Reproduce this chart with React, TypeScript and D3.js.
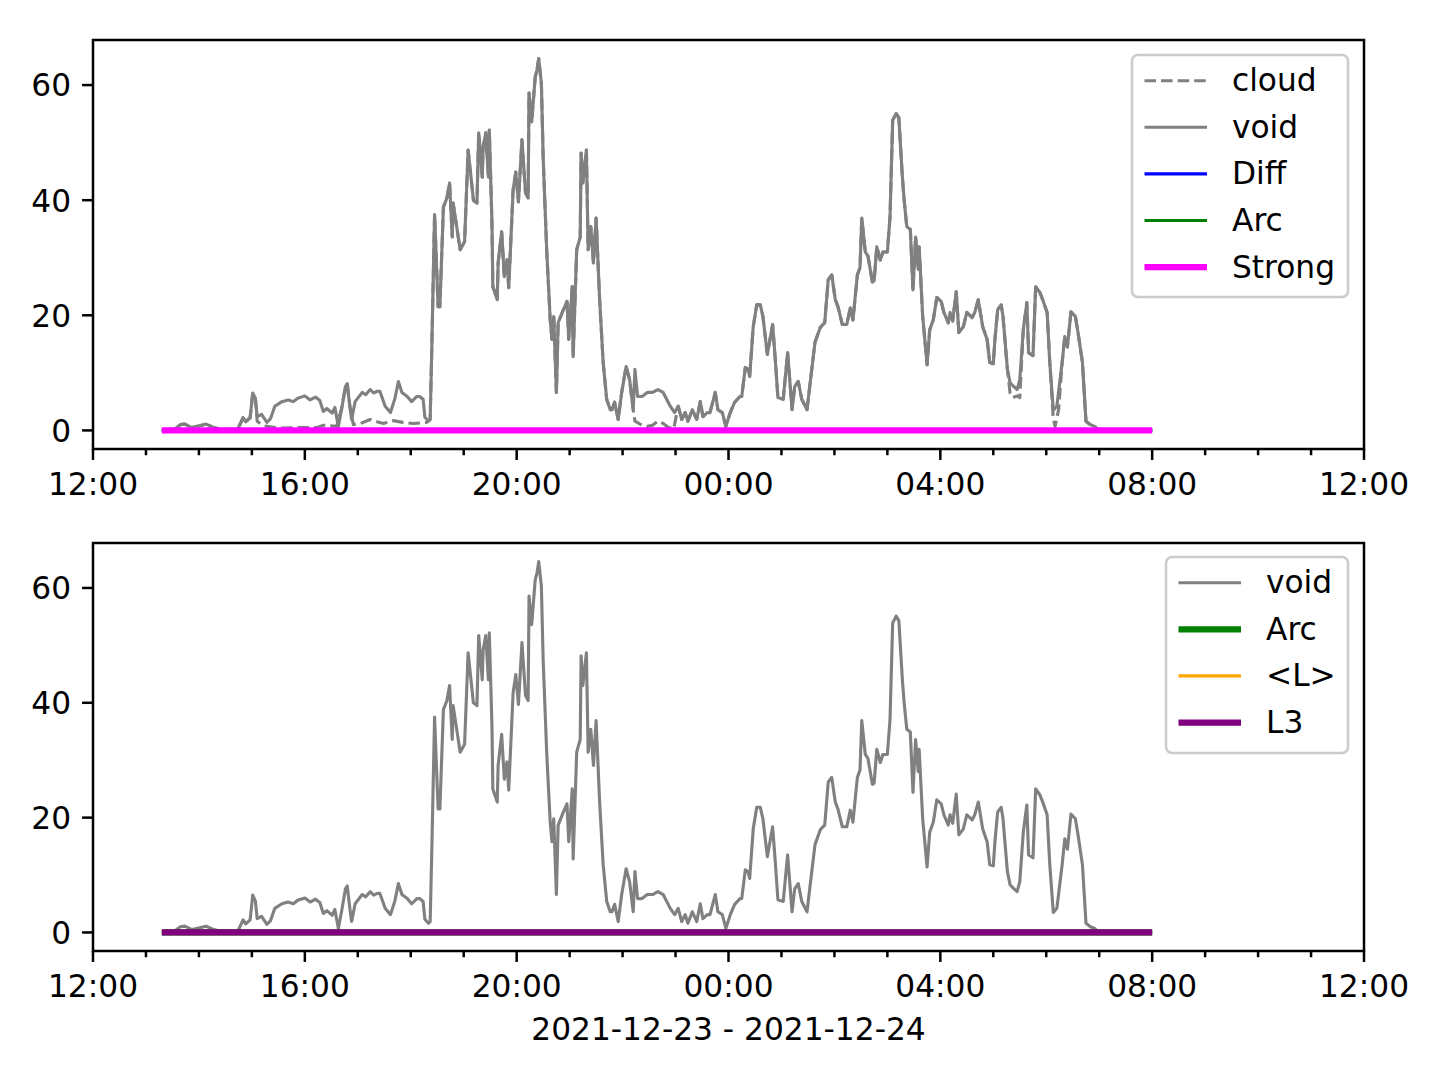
import React from "react";
import * as d3 from "d3";

const W = 1440;
const H = 1080;
const FONT = "'DejaVu Sans', sans-serif";
const FS = 31.25;
const PT = 225 / 72;

const START = new Date(2021, 11, 23, 12, 0);
const END = new Date(2021, 11, 24, 12, 0);
const at = (m: number) => new Date(START.getTime() + m * 60000);

// void trace: [minutes after 12:00 on 2021-12-23, value]
const VOID: [number, number][] = [
  [78, 0], [93, 0.3], [99, 1.0], [104, 1.1], [112, 0.5], [121, 0.8], [128, 1.1], [135, 0.6], [144, 0.2], [164, 0.2],
  [170, 2.2], [173, 1.5], [178, 2.2], [181, 6.5], [184, 5.5], [186, 2.4], [191, 2.8], [197, 1.4], [201, 2.0], [206, 4.2],
  [214, 5.0], [221, 5.3], [227, 5.0], [232, 5.6], [240, 6.0], [246, 5.3], [252, 5.8], [257, 5.2], [261, 3.3], [265, 3.8],
  [271, 3.0], [274, 4.0], [278, 0.7], [282, 4.0], [286, 7.6], [288, 8.1], [291, 4.2], [293, 1.9], [297, 5.0], [305, 6.6],
  [309, 6.2], [314, 7.1], [318, 6.5], [322, 6.8], [325, 6.8], [331, 4.2], [337, 3.1], [342, 5.5], [346, 8.5], [350, 6.6],
  [356, 5.9], [361, 5.0], [367, 5.9], [370, 5.9], [374, 5.4], [376, 2.3], [380, 1.6], [382, 1.9], [384, 15.3], [387, 37.5],
  [391, 21.5], [393, 21.5], [397, 38.8], [401, 40.4], [404, 43.0], [407, 33.6], [408, 39.5], [416, 31.4], [421, 32.8], [425, 48.7],
  [431, 40.0], [435, 39.5], [437, 51.7], [441, 44.0], [442, 49.2], [445, 51.7], [448, 44.0], [449, 52.2], [452, 36.0], [453, 25.0],
  [458, 22.7], [459, 29.1], [463, 34.5], [466, 26.7], [469, 29.7], [471, 24.8], [476, 41.8], [479, 44.9], [482, 39.7], [486, 50.5],
  [490, 41.3], [493, 40.4], [494, 58.6], [497, 53.6], [501, 61.4], [503, 62.6], [505, 64.6], [508, 60.3], [510, 47.5], [514, 31.4],
  [518, 19.2], [520, 15.8], [522, 19.8], [525, 6.6], [527, 18.7], [533, 21.0], [537, 22.4], [539, 15.8], [543, 25.0], [544, 12.8],
  [548, 31.4], [552, 33.6], [553, 48.2], [555, 43.0], [559, 48.7], [561, 31.4], [564, 35.4], [567, 29.1], [570, 36.9], [574, 22.7],
  [578, 11.8], [582, 5.4], [586, 3.6], [588, 3.6], [591, 4.9], [595, 1.9], [599, 6.6], [604, 11.1], [608, 8.8], [612, 3.6],
  [614, 10.6], [617, 5.9], [622, 5.9], [628, 6.6], [634, 6.6], [640, 7.1], [646, 6.6], [654, 4.2], [659, 3.1], [663, 4.2],
  [667, 1.9], [671, 3.1], [674, 1.6], [679, 3.6], [684, 1.9], [688, 5.0], [691, 2.4], [696, 3.1], [699, 3.1], [705, 6.6],
  [708, 3.6], [713, 3.1], [717, 0.7], [722, 3.1], [727, 4.9], [733, 5.9], [735, 5.9], [739, 10.9], [742, 10.6], [744, 9.4],
  [748, 18.0], [752, 21.8], [756, 21.8], [759, 19.8], [764, 13.2], [767, 15.8], [770, 18.4], [773, 12.3], [776, 5.7], [782, 5.4],
  [787, 13.5], [792, 3.6], [795, 7.6], [799, 8.5], [803, 5.4], [809, 3.6], [812, 7.6], [818, 15.3], [824, 17.9], [829, 18.7],
  [833, 26.2], [837, 27.0], [841, 22.7], [844, 21.5], [849, 18.4], [854, 18.4], [858, 21.3], [861, 19.2], [866, 27.0], [869, 28.3],
  [871, 36.9], [875, 31.0], [878, 30.3], [883, 25.8], [885, 26.0], [888, 31.9], [892, 29.6], [895, 31.0], [900, 31.0], [903, 37.1],
  [906, 53.9], [910, 55.1], [913, 54.3], [917, 44.0], [919, 40.0], [922, 35.4], [926, 34.9], [929, 24.4], [932, 33.6], [935, 28.0],
  [936, 31.9], [940, 19.8], [945, 11.4], [948, 17.5], [952, 19.2], [956, 23.1], [961, 22.4], [964, 20.5], [969, 18.7], [971, 20.5],
  [974, 19.0], [978, 24.1], [981, 17.0], [986, 18.0], [990, 20.5], [996, 19.6], [999, 20.5], [1003, 22.7], [1008, 18.0], [1013, 15.8],
  [1016, 11.8], [1020, 11.6], [1022, 16.1], [1025, 21.0], [1029, 21.8], [1031, 19.8], [1036, 10.6], [1039, 8.3], [1042, 7.8], [1047, 7.1],
  [1050, 8.8], [1054, 17.5], [1058, 22.2], [1060, 13.5], [1065, 13.0], [1068, 25.0], [1073, 23.9], [1076, 22.7], [1081, 20.5], [1084, 11.8],
  [1088, 3.5], [1092, 4.2], [1098, 11.8], [1101, 16.3], [1104, 14.5], [1108, 20.6], [1113, 19.8], [1116, 17.0], [1121, 11.8], [1125, 1.6],
  [1130, 1.0], [1135, 0.7], [1139, 0], [1200, 0],
];

// windows (minutes) where the dashed cloud trace leaves the void trace
const CLOUD_WINDOWS: [number, number][] = [[184, 382], [612, 663], [1036, 1054], [1084, 1098]];
// cloud readings inside those windows
const CLOUD_OWN: [number, number][] = [
  [186, 1.6], [191, 1.0], [197, 0.7], [212, 0.4], [235, 0.5], [254, 0.5], [261, 0.9], [276, 0.7],
  [282, 4.0], [286, 7.6], [288, 8.1], [291, 4.2], [295, 1.0], [303, 1.2], [314, 1.9], [322, 1.5],
  [329, 1.2], [340, 1.7], [351, 1.4], [363, 1.2], [378, 1.4],
  [614, 1.6], [622, 0.9], [628, 0.7], [634, 0.9], [640, 1.6], [646, 1.2], [652, 0.5], [658, 0.3],
  [1039, 6.5], [1042, 5.7], [1047, 6.0], [1050, 5.7],
  [1088, 2.0], [1090, 0.7], [1094, 3.6],
];

// Diff, Arc, Strong, <L>, L3 sit at zero over the whole record
const FLAT: [number, number][] = [[78, 0], [1200, 0]];

const CLOUD: [number, number][] = [
  ...VOID.filter(([t]) => !CLOUD_WINDOWS.some(([a, b]) => t > a && t < b)),
  ...CLOUD_OWN,
].sort((a, b) => a[0] - b[0]);

const Y_TICKS = [0, 20, 40, 60];
const X_LABEL = "2021-12-23 - 2021-12-24";

type Series = { name: string; data: [number, number][]; color: string; width: number; dash?: string };

const TOP_SERIES: Series[] = [
  { name: "cloud", data: CLOUD, color: "#808080", width: PT, dash: `${3.7 * PT} ${1.6 * PT}` },
  { name: "void", data: VOID, color: "#808080", width: PT },
  { name: "Diff", data: FLAT, color: "#0000ff", width: PT },
  { name: "Arc", data: FLAT, color: "#008000", width: PT },
  { name: "Strong", data: FLAT, color: "#ff00ff", width: 2 * PT },
];

const BOTTOM_SERIES: Series[] = [
  { name: "void", data: VOID, color: "#808080", width: PT },
  { name: "Arc", data: FLAT, color: "#008000", width: 2 * PT },
  { name: "<L>", data: FLAT, color: "#ffa500", width: PT },
  { name: "L3", data: FLAT, color: "#800080", width: 2 * PT },
];

const AX_L = 93;
const AX_R = 1364;

const peak = d3.max(VOID, (d) => d[1]) ?? 1;
const Y_DOMAIN = [-peak * 0.05, peak * 1.05];

function Legend({ series, x, y, w, h }: { series: Series[]; x: number; y: number; w: number; h: number }) {
  const handleX = x + 0.4 * FS;
  const handleLen = 2 * FS;
  const textX = handleX + handleLen + 0.8 * FS;
  const row0 = y + 25.7;
  const step = 46.6;
  return (
    <g>
      <rect x={x} y={y} width={w} height={h} rx={6} ry={6} fill="white" fillOpacity={0.8} stroke="#cccccc" strokeWidth={2.5} />
      {series.map((s, i) => {
        const cy = row0 + i * step;
        return (
          <g key={s.name}>
            <line x1={handleX} x2={handleX + handleLen} y1={cy} y2={cy} stroke={s.color} strokeWidth={s.width} strokeDasharray={s.dash} />
            <text x={textX} y={cy + 10.5} fontFamily={FONT} fontSize={FS} fill="#000">
              {s.name}
            </text>
          </g>
        );
      })}
    </g>
  );
}

function Panel({ top, bottom, series, legend }: { top: number; bottom: number; series: Series[]; legend: { x: number; y: number; w: number; h: number } }) {
  const x = d3.scaleTime().domain([START, END]).range([AX_L, AX_R]);
  const y = d3.scaleLinear().domain(Y_DOMAIN).range([bottom, top]);
  const line = d3
    .line<[number, number]>()
    .x((d) => x(at(d[0])))
    .y((d) => y(d[1]));
  const major = x.ticks(d3.timeHour.every(4)!);
  const minor = x.ticks(d3.timeHour.every(1)!).filter((d) => d.getHours() % 4 !== 0);
  const fmt = d3.timeFormat("%H:%M");
  const tw = 0.8 * PT;

  return (
    <g>
      {series.map((s) => (
        <path
          key={s.name}
          d={line(s.data) ?? ""}
          fill="none"
          stroke={s.color}
          strokeWidth={s.width}
          strokeDasharray={s.dash}
          strokeLinejoin="round"
        />
      ))}
      <rect x={AX_L} y={top} width={AX_R - AX_L} height={bottom - top} fill="none" stroke="#000" strokeWidth={tw} />
      {Y_TICKS.map((v) => (
        <g key={v}>
          <line x1={AX_L} x2={AX_L - 3.5 * PT} y1={y(v)} y2={y(v)} stroke="#000" strokeWidth={tw} />
          <text x={AX_L - 7 * PT} y={y(v) + 11.4} textAnchor="end" fontFamily={FONT} fontSize={FS} fill="#000">
            {v}
          </text>
        </g>
      ))}
      {minor.map((d) => (
        <line key={+d} x1={x(d)} x2={x(d)} y1={bottom} y2={bottom + 2 * PT} stroke="#000" strokeWidth={tw} />
      ))}
      {major.map((d) => (
        <g key={+d}>
          <line x1={x(d)} x2={x(d)} y1={bottom} y2={bottom + 3.5 * PT} stroke="#000" strokeWidth={tw} />
          <text x={x(d)} y={bottom + 45.5} textAnchor="middle" fontFamily={FONT} fontSize={FS} fill="#000">
            {fmt(d)}
          </text>
        </g>
      ))}
      <Legend series={series} {...legend} />
    </g>
  );
}

export default function App() {
  return (
    <svg width={W} height={H} viewBox={`0 0 ${W} ${H}`} style={{ position: "absolute", left: 0, top: 0, background: "#fff" }}>
      <rect width={W} height={H} fill="#fff" />
      <Panel top={40} bottom={449} series={TOP_SERIES} legend={{ x: 1132, y: 55, w: 216, h: 242 }} />
      <Panel top={543} bottom={951} series={BOTTOM_SERIES} legend={{ x: 1166, y: 557, w: 182, h: 196 }} />
      <text x={(AX_L + AX_R) / 2} y={1040} textAnchor="middle" fontFamily={FONT} fontSize={FS} fill="#000">
        {X_LABEL}
      </text>
    </svg>
  );
}
